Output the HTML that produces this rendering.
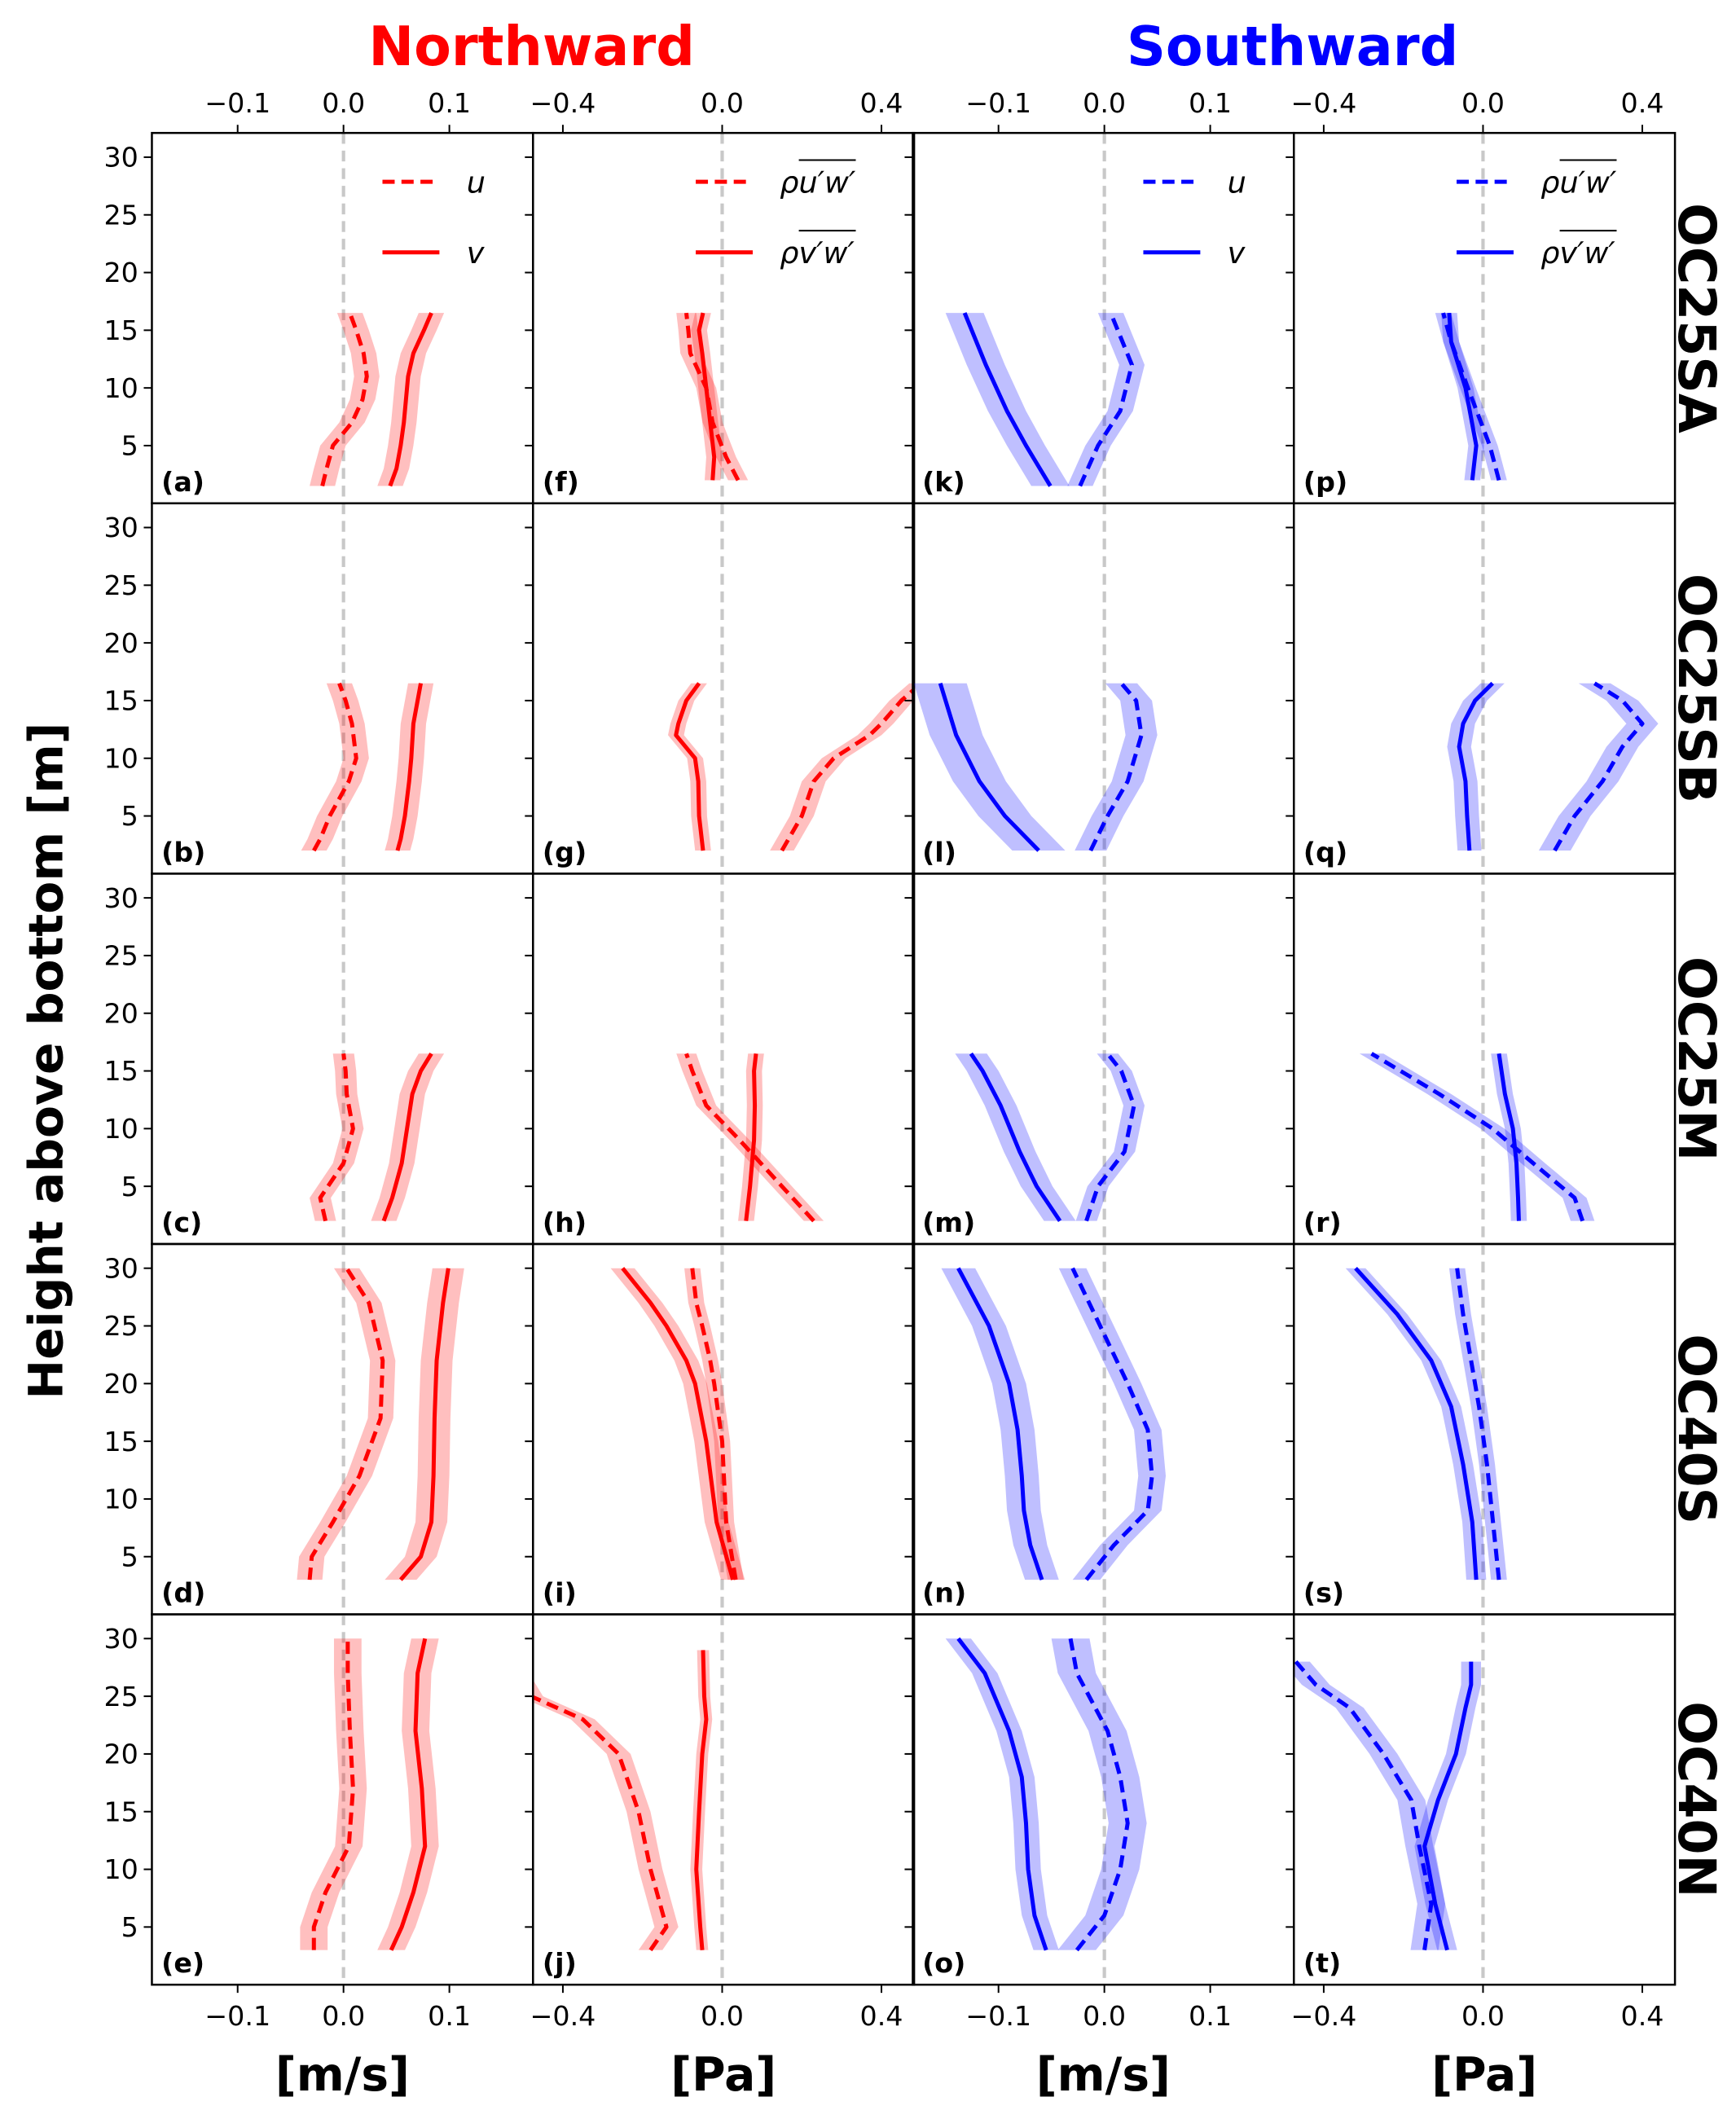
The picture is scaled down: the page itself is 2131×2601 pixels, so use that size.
<!DOCTYPE html>
<html><head><meta charset="utf-8"><style>
html,body{margin:0;padding:0;background:#fff}
svg{display:block;font-family:"DejaVu Sans","Liberation Sans",sans-serif}
</style></head><body>
<svg id="fig" width="2131" height="2601" viewBox="0 0 1280 1562" preserveAspectRatio="none" xmlns="http://www.w3.org/2000/svg">
<text x="392" y="48" font-size="40" font-weight="bold" fill="#ff0000" text-anchor="middle">Northward</text>
<text x="953" y="48" font-size="40" font-weight="bold" fill="#0000ff" text-anchor="middle">Southward</text>
<text transform="translate(46,782) rotate(-90)" font-size="35" font-weight="bold" text-anchor="middle">Height above bottom [m]</text>
<g id="plots"></g>
</svg>
<script>
// ---- data (height in m, velocity in m/s, stress in Pa) ----
const colLeft=[112,393,673,954];
const rowTop=[98,371,644,917,1190];
const panelLetters=['a','b','c','d','e','f','g','h','i','j','k','l','m','n','o','p','q','r','s','t'];
const rowNames=['OC25SA','OC25SB','OC25M','OC40S','OC40N'];
const velTicks=[-0.1,0.0,0.1];
const paTicks=[-0.4,0.0,0.4];
const yTicks=[5,10,15,20,25,30];
const pA_z=[1.5,3,5,7,9,11,13,15,16.5];
const pA_u=[-0.02,-0.016,-0.01,0.008,0.018,0.022,0.019,0.012,0.006];
const pA_v=[0.044,0.05,0.054,0.057,0.059,0.061,0.066,0.076,0.083];
const pB_z=[2,3,5,8,10,13,15,16.5];
const pB_u=[-0.028,-0.022,-0.013,0.005,0.012,0.008,0.002,-0.004];
const pB_v=[0.051,0.054,0.058,0.062,0.064,0.066,0.07,0.073];
const pC_z=[2,4,7,10,13,15,16.5];
const pC_u=[-0.017,-0.022,0.0,0.009,0.003,0.002,0.0];
const pC_v=[0.038,0.046,0.055,0.06,0.065,0.073,0.083];
const pD_z=[3,5,8,12,17,22,27,30];
const pD_u=[-0.032,-0.03,-0.01,0.015,0.035,0.037,0.024,0.003];
const pD_v=[0.054,0.073,0.083,0.085,0.086,0.088,0.094,0.099];
const pE_z=[3,5,8,12,17,22,27,30];
const pE_u=[-0.028,-0.028,-0.017,0.005,0.009,0.006,0.004,0.004];
const pE_v=[0.045,0.055,0.066,0.077,0.074,0.068,0.07,0.077];
const pF_z=[2,4,7,10,13,15,16.5];
const pF_u=[0.04,0.01,-0.024,-0.04,-0.08,-0.085,-0.09];
const pF_v=[-0.024,-0.02,-0.03,-0.04,-0.05,-0.058,-0.048];
const pG_z=[2,5,8,10,12,13,15,16.5];
const pG_u=[0.15,0.2,0.23,0.28,0.37,0.4,0.45,0.5];
const pG_v=[-0.048,-0.058,-0.06,-0.068,-0.116,-0.11,-0.09,-0.058];
const pH_z=[2,5,9,12,15,16.5];
const pH_u=[0.23,0.15,0.044,-0.04,-0.075,-0.09];
const pH_v=[0.06,0.07,0.08,0.082,0.08,0.085];
const pI_z=[3,8,15,20,22,25,27,30];
const pI_u=[0.034,0.01,0.0,-0.02,-0.03,-0.05,-0.065,-0.075];
const pI_v=[0.027,-0.014,-0.04,-0.068,-0.09,-0.14,-0.18,-0.25];
const pJ_z=[3,5,10,15,20,23,25,29];
const pJ_u=[-0.18,-0.14,-0.18,-0.21,-0.26,-0.35,-0.48,-0.55];
const pJ_v=[-0.05,-0.055,-0.065,-0.058,-0.05,-0.04,-0.045,-0.048];
const pK_z=[1.5,5,8,12,16.5];
const pK_u=[-0.023,-0.006,0.015,0.026,0.006];
const pK_v=[-0.051,-0.074,-0.092,-0.112,-0.132];
const pL_z=[2,5,8,12,15,16.5];
const pL_u=[-0.013,0.003,0.022,0.035,0.03,0.016];
const pL_v=[-0.062,-0.094,-0.118,-0.14,-0.15,-0.155];
const pM_z=[2,5,8,12,15,16.5];
const pM_u=[-0.017,-0.006,0.019,0.028,0.016,0.003];
const pM_v=[-0.042,-0.064,-0.08,-0.098,-0.115,-0.126];
const pN_z=[3,6,9,12,16,20,25,30];
const pN_u=[-0.017,0.009,0.041,0.045,0.041,0.022,-0.004,-0.03];
const pN_v=[-0.059,-0.07,-0.076,-0.078,-0.082,-0.09,-0.109,-0.138];
const pO_z=[3,6,10,14,18,22,27,30];
const pO_u=[-0.026,0.0,0.015,0.022,0.015,0.003,-0.026,-0.032];
const pO_v=[-0.055,-0.066,-0.072,-0.074,-0.078,-0.09,-0.113,-0.138];
const pP_z=[2,5,10,14,16.5];
const pP_u=[0.04,0.017,-0.038,-0.08,-0.1];
const pP_v=[-0.027,-0.017,-0.044,-0.08,-0.085];
const pQ_z=[2,5,8,11,13,15,16.5];
const pQ_u=[0.18,0.23,0.3,0.35,0.4,0.35,0.28];
const pQ_v=[-0.034,-0.04,-0.044,-0.06,-0.05,-0.02,0.024];
const pR_z=[2,4,7,10,13,16.5];
const pR_u=[0.25,0.23,0.126,0.024,-0.11,-0.28];
const pR_v=[0.09,0.088,0.084,0.075,0.055,0.04];
const pS_z=[3,8,13,18,22,26,30];
const pS_u=[0.04,0.025,0.01,-0.01,-0.03,-0.05,-0.065];
const pS_v=[-0.017,-0.027,-0.05,-0.08,-0.13,-0.215,-0.32];
const pT_z=[3,7,12,16,20,24,26,28];
const pT_u=[-0.147,-0.13,-0.16,-0.18,-0.25,-0.335,-0.42,-0.47];
const pT_v=[-0.09,-0.12,-0.147,-0.113,-0.068,-0.044,-0.03,-0.03];
const panels=[
 [pA_z,pA_u,pA_v,0.012,0.012],[pB_z,pB_u,pB_v,0.012,0.012],[pC_z,pC_u,pC_v,0.01,0.012],[pD_z,pD_u,pD_v,0.012,0.015],[pE_z,pE_u,pE_v,0.013,0.013],
 [pF_z,pF_u,pF_v,0.025,0.02],[pG_z,pG_u,pG_v,0.03,0.02],[pH_z,pH_u,pH_v,0.025,0.02],[pI_z,pI_u,pI_v,0.02,0.03],[pJ_z,pJ_u,pJ_v,0.03,0.015],
 [pK_z,pK_u,pK_v,0.012,0.018],[pL_z,pL_u,pL_v,0.015,0.025],[pM_z,pM_u,pM_v,0.01,0.015],[pN_z,pN_u,pN_v,0.013,0.016],[pO_z,pO_u,pO_v,0.018,0.012],
 [pP_z,pP_u,pP_v,0.02,0.02],[pQ_z,pQ_u,pQ_v,0.04,0.03],[pR_z,pR_u,pR_v,0.03,0.02],[pS_z,pS_u,pS_v,0.02,0.025],[pT_z,pT_u,pT_v,0.035,0.025]
];
const NS='http://www.w3.org/2000/svg';
const root=document.getElementById('plots');
const W=281,H=273,YMIN=0,YMAX=32.1;
function mk(tag,attrs,parent){const e=document.createElementNS(NS,tag);for(const k in attrs)e.setAttribute(k,attrs[k]);(parent||root).appendChild(e);return e;}
function xScale(c,v){const isPa=c%2===1;const lo=isPa?-0.475:-0.181,hi=isPa?0.482:0.179;return colLeft[c]+(v-lo)/(hi-lo)*W;}
function yScale(r,z){return rowTop[r]+H-(z-YMIN)/(YMAX-YMIN)*H;}
for(let c=0;c<4;c++){
 const col=c<2?'#ff0000':'#0000ff', fillc=c<2?'rgba(255,0,0,0.25)':'rgba(0,0,255,0.25)';
 for(let r=0;r<5;r++){
  const idx=c*5+r, p=panels[idx], x0=colLeft[c], y0=rowTop[r];
  const g=mk('g',{});
  
  
  const cp=mk('clipPath',{id:'cp'+idx},g);mk('rect',{x:x0,y:y0,width:W,height:H},cp);
  const pg=mk('g',{'clip-path':'url(#cp'+idx+')'},g);
  const zl=mk('line',{x1:xScale(c,0),x2:xScale(c,0),y1:y0,y2:y0+H,stroke:'#c8c8c8','stroke-width':2.5,'stroke-dasharray':'8,5'},pg);
  
  
  [[p[1],p[3],true],[p[2],p[4],false]].forEach(([vals,bw,dashed])=>{
   const z=p[0];
   let pts=z.map((zz,i)=>xScale(c,vals[i]-bw)+','+yScale(r,zz));
   for(let i=z.length-1;i>=0;i--)pts.push(xScale(c,vals[i]+bw)+','+yScale(r,z[i]));
   const band=mk('polygon',{points:pts.join(' '),fill:fillc,stroke:'none'},pg);
   
   
   const ln=mk('polyline',{points:z.map((zz,i)=>xScale(c,vals[i])+','+yScale(r,zz)).join(' '),fill:'none',stroke:col,'stroke-width':3,'stroke-dasharray':dashed?'9,5':'none','stroke-linejoin':'round'},pg);
   
   
  });
  mk('rect',{x:x0,y:y0,width:W,height:H,fill:'none',stroke:'#000','stroke-width':1.5},g);
  const lt=mk('text',{x:x0+7,y:y0+H-9,'font-size':20,'font-weight':'bold'},g);lt.textContent='('+panelLetters[idx]+')';
  
  
  yTicks.forEach(t=>{const yy=yScale(r,t);mk('line',{x1:x0-6,x2:x0,y1:yy,y2:yy,stroke:'#000','stroke-width':1.2},g);
   if(c===0){const tx=mk('text',{x:x0-10,y:yy+7,'font-size':20,'text-anchor':'end'},g);tx.textContent=t;
    
    }});
  const xt=c%2===1?paTicks:velTicks;
  xt.forEach(t=>{const xx=xScale(c,t);
   if(r===0){mk('line',{x1:xx,x2:xx,y1:y0-6,y2:y0,stroke:'#000','stroke-width':1.2},g);
    const tx=mk('text',{x:xx,y:y0-15,'font-size':20,'text-anchor':'middle'},g);tx.textContent=t.toFixed(1).replace('-','\u2212');
    
    }
   if(r===4){mk('line',{x1:xx,x2:xx,y1:y0+H,y2:y0+H+6,stroke:'#000','stroke-width':1.2},g);
    const tx=mk('text',{x:xx,y:y0+H+30,'font-size':20,'text-anchor':'middle'},g);tx.textContent=t.toFixed(1).replace('-','\u2212');
    
    }
  });
  if(r===0){
   const lg=mk('g',{},g);
   
   
   const lbl=c%2===0?['<tspan font-style="italic">u</tspan>','<tspan font-style="italic">v</tspan>']:
    ['<tspan font-style="italic">ρu′w′</tspan>','<tspan font-style="italic">ρv′w′</tspan>'];
   [0,1].forEach(k=>{const yy=y0+36+k*52;const lx=c%2===0?x0+170:x0+120;
    mk('line',{x1:lx,x2:lx+42,y1:yy,y2:yy,stroke:col,'stroke-width':3,'stroke-dasharray':k===0?'9,5':'none'},lg);
    const tx=mk('text',{x:lx+62,y:yy+8,'font-size':22},lg);tx.innerHTML=lbl[k];
    if(c%2===1){mk('line',{x1:lx+76,x2:lx+118,y1:yy-16,y2:yy-16,stroke:'#000','stroke-width':1.2},lg);}
   });
  }
 }
}
rowNames.forEach((n,r)=>{const t=mk('text',{transform:'translate(1238,'+(rowTop[r]+H/2)+') rotate(90)','font-size':38,'font-weight':'bold','text-anchor':'middle'});t.textContent=n;
 
 });
['[m/s]','[Pa]','[m/s]','[Pa]'].forEach((s,c)=>{const t=mk('text',{x:colLeft[c]+W/2,y:1541,'font-size':34,'font-weight':'bold','text-anchor':'middle'});t.textContent=s;
 
 });
</script>
</body></html>
